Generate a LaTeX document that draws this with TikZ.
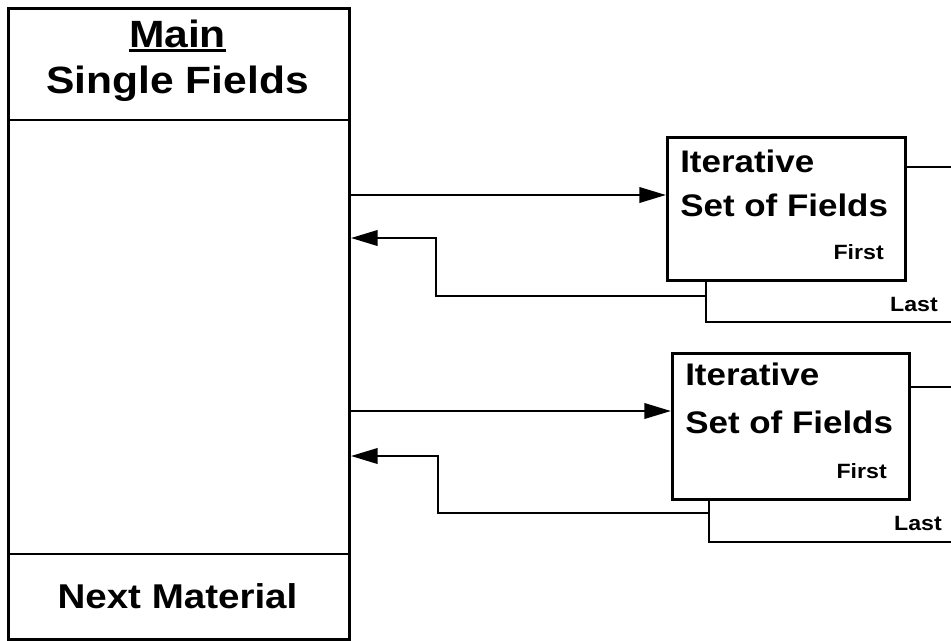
\documentclass[tikz,border=0pt]{standalone}
\usepackage{fontspec}
\setmainfont{Liberation Sans}[FakeStretch=1.12]
\usetikzlibrary{arrows.meta, positioning}
\def\px{0.75pt}
\tikzset{
    boxframe/.style={draw, line width=2.2pt, inner sep=0pt},
    connector/.style={line width=2pt},
    flow/.style={connector, -{Triangle[length=20pt, width=11.5pt]}},
    bigtext/.style={font=\fontsize{28.5}{32}\selectfont\bfseries, inner sep=0pt, anchor=base},
    settext/.style={font=\fontsize{23.4}{27}\selectfont\bfseries, inner sep=0pt, anchor=base west},
    tagtext/.style={font=\fontsize{15.5}{18}\selectfont\bfseries, inner sep=0pt, anchor=base east}
}

\begin{document}
\begin{tikzpicture}[x=\px, y=-\px]
    \useasboundingbox (0,0) rectangle (951,640);

    % Main record with its three parts
    \node[boxframe, minimum width=341*\px, minimum height=631*\px, anchor=north west] (main) at (7,7) {};
    \coordinate (topRule) at (0,120);
    \coordinate (bottomRule) at (0,554);
    \draw[boxframe] (main.west |- topRule) -- (main.east |- topRule);
    \draw[boxframe] (main.west |- bottomRule) -- (main.east |- bottomRule);
    \node[bigtext] (mainTitle) at (177.5,47) {Main};
    \draw[line width=2.2pt] ([yshift=-2.5pt]mainTitle.base west) -- ([yshift=-2.5pt]mainTitle.base east);
    \node[bigtext] (singleFields) at (177.5,93) {Single Fields};
    \node[bigtext, font=\fontsize{25.8}{30}\selectfont\bfseries] (nextMaterial) at (177.5,608) {Next Material};

    % First iterative set
    \node[boxframe, minimum width=238*\px, minimum height=143*\px, anchor=north west] (firstSet) at (666,136) {};
    \node[settext] (firstIter) at (680,172) {Iterative};
    \node[settext] (firstFields) at (680,216) {Set of Fields};
    \node[tagtext] (firstFirst) at (884,259) {First};
    \node[tagtext] (firstLast) at (938,311) {Last};
    \coordinate (firstCorner) at (706,322);
    \coordinate (firstEnd) at (951,167);
    \draw[connector] (firstSet.south -| firstCorner) -- (firstCorner) -- (firstCorner -| firstEnd);
    \draw[connector] (firstSet.east |- firstEnd) -- (firstEnd);
    \coordinate (firstIn) at (666,195);
    \draw[flow] (main.east |- firstIn) -- (firstSet.west |- firstIn);
    \coordinate (firstOut) at (706,296);
    \coordinate (firstTurn) at (436,238);
    \draw[flow] (firstOut) -- (firstTurn |- firstOut) -- (firstTurn) -- (main.east |- firstTurn);

    % Second iterative set
    \node[boxframe, minimum width=237*\px, minimum height=146*\px, anchor=north west] (secondSet) at (671,352) {};
    \node[settext] (secondIter) at (685,385) {Iterative};
    \node[settext] (secondFields) at (685,433) {Set of Fields};
    \node[tagtext] (secondFirst) at (887,478) {First};
    \node[tagtext] (secondLast) at (942,530) {Last};
    \coordinate (secondCorner) at (709,542);
    \coordinate (secondEnd) at (951,387);
    \draw[connector] (secondSet.south -| secondCorner) -- (secondCorner) -- (secondCorner -| secondEnd);
    \draw[connector] (secondSet.east |- secondEnd) -- (secondEnd);
    \coordinate (secondIn) at (671,411);
    \draw[flow] (main.east |- secondIn) -- (secondSet.west |- secondIn);
    \coordinate (secondOut) at (709,513);
    \coordinate (secondTurn) at (438,456);
    \draw[flow] (secondOut) -- (secondTurn |- secondOut) -- (secondTurn) -- (main.east |- secondTurn);
\end{tikzpicture}
\end{document}
